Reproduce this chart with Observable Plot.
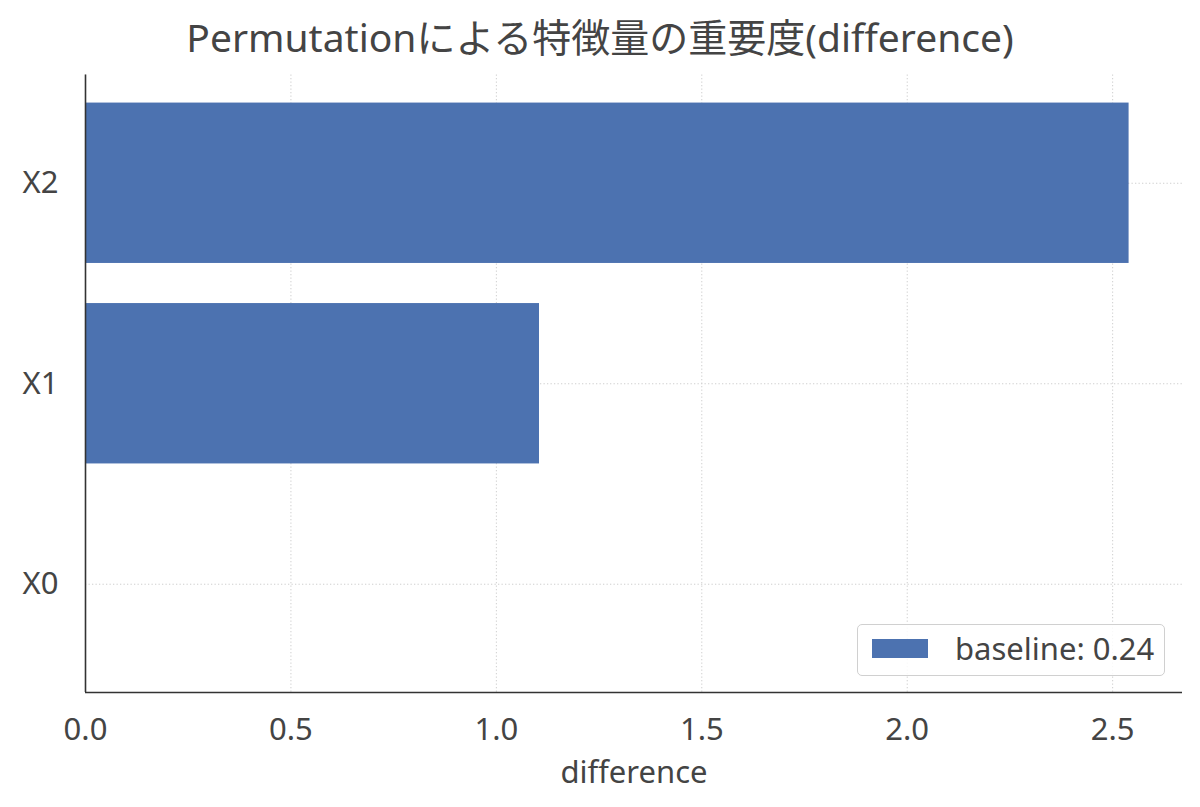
<!DOCTYPE html>
<html>
<head>
<meta charset="utf-8">
<script src="https://cdn.jsdelivr.net/npm/d3@7"></script>
<script src="https://cdn.jsdelivr.net/npm/@observablehq/plot@0.6"></script>
<style>
  html, body { margin: 0; padding: 0; background: #fff; }
  #wrap { position: relative; width: 1200px; height: 807px; font-family: "Noto Sans", "Noto Sans CJK JP", sans-serif; color: #444; }
  #title { height: 70px; line-height: 74px; text-align: center; font-size: 39px; color: #444; white-space: nowrap; overflow: visible; }
  #legend { position: absolute; left: 857px; top: 624px; width: 306px; height: 50px; border: 1.6px solid #d0d0d0; border-radius: 5px; background: rgba(255,255,255,0.85); box-sizing: content-box; }
  #legend .sw { position: absolute; left: 14px; top: 14px; width: 56px; height: 19px; background: #4c72b0; }
  #legend .lb { position: absolute; left: 97px; top: -2px; line-height: 50px; font-size: 31px; color: #444; white-space: nowrap; }
</style>
</head>
<body>
<div id="wrap">
  <div id="title"></div>
  <div id="chart"></div>
  <div id="legend"><div class="sw"></div><div class="lb"></div></div>
</div>
<script>
const titleText = "Permutationによる特徴量の重要度(difference)";
const categories = ["X0", "X1", "X2"];
const values = [0.0, 1.105, 2.54];
const baselineLabel = "baseline: 0.24";
const xTicks = [0, 0.5, 1.0, 1.5, 2.0, 2.5];
const xLabel = "difference";

document.getElementById("title").textContent = titleText;
document.querySelector("#legend .lb").textContent = baselineLabel;

const rows = categories.map((c, i) => ({cat: c, idx: i, value: values[i]}));
const half = 0.4;
const span = categories.length - 1 + 2 * half;
const yMin = -half - 0.05 * span;
const yMax = categories.length - 1 + half + 0.05 * span;
const xMax = 2.67;
const gridColor = "#cfcfcf";
const ink = "#444";
const font = '"Noto Sans", "Noto Sans CJK JP", sans-serif';

const chart = Plot.plot({
  width: 1200,
  height: 737,
  marginTop: 4.5,
  marginBottom: 115,
  marginLeft: 85,
  marginRight: 18,
  style: {fontFamily: font, background: "transparent", color: ink},
  x: {domain: [0, xMax]},
  y: {domain: [yMin, yMax]},
  marks: [
    Plot.gridX(xTicks, {stroke: gridColor, strokeOpacity: 1, strokeWidth: 1, strokeDasharray: "1.3,2.2"}),
    Plot.gridY(rows.map(d => d.idx), {stroke: gridColor, strokeOpacity: 1, strokeWidth: 1, strokeDasharray: "1.3,2.2"}),
    Plot.rect(rows, {x1: 0, x2: "value", y1: d => d.idx - half, y2: d => d.idx + half, fill: "#4c72b0"}),
    Plot.axisX(xTicks, {tickSize: 0, tickPadding: 25, tickFormat: d => d.toFixed(1), fontSize: 31, fill: ink, label: xLabel, labelAnchor: "center", labelArrow: "none", labelOffset: 90}),
    Plot.axisY(rows.map(d => d.idx), {tickSize: 0, tickPadding: 27, tickFormat: i => categories[i], fontSize: 31, fill: ink, label: null}),
    Plot.ruleX([0], {y1: yMin, y2: yMax, stroke: "#333", strokeWidth: 1.6}),
    Plot.ruleY([yMin], {x1: 0, x2: xMax, stroke: "#333", strokeWidth: 1.6})
  ]
});
document.getElementById("chart").appendChild(chart);
</script>
</body>
</html>
